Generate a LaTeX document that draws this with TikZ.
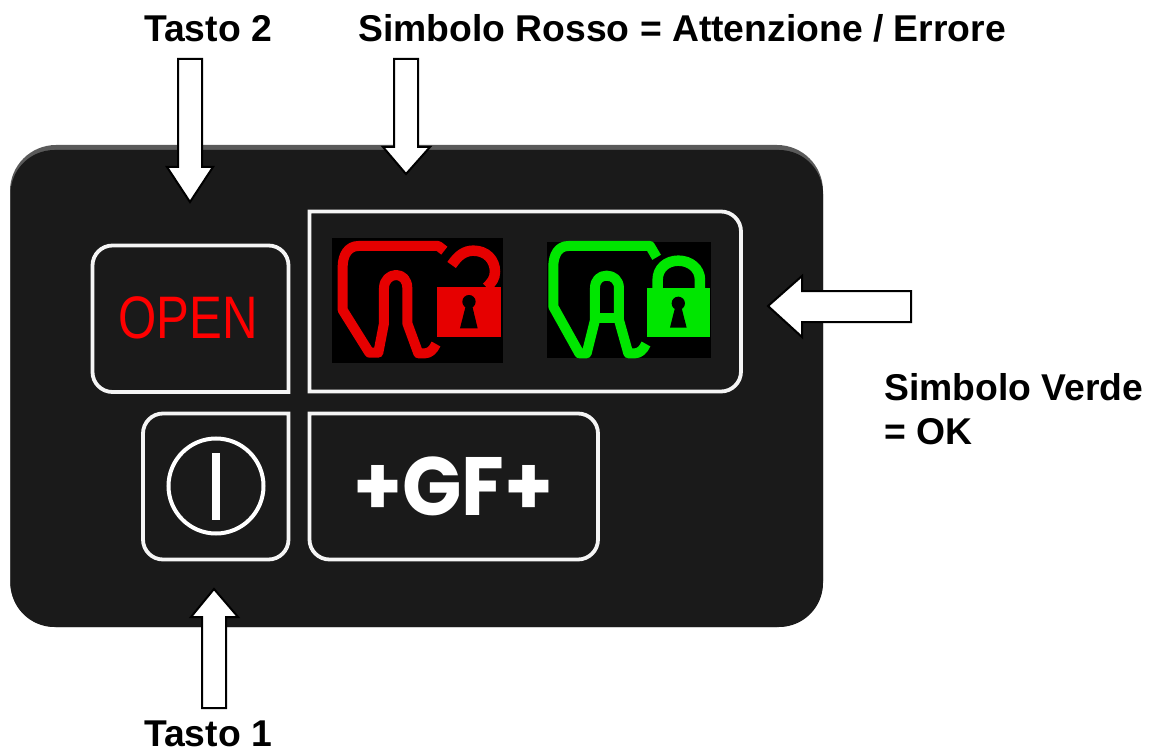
\documentclass[tikz,border=0pt]{standalone}
\usepackage{fontspec}
\setmainfont{Liberation Sans}
\newfontfamily\gffont{Poppins}
\definecolor{panel}{HTML}{1A1A1A}
\definecolor{rim}{HTML}{5A5A5A}
\definecolor{redsym}{HTML}{E60000}
\definecolor{greensym}{HTML}{00E600}
\tikzset{
  blockarrow/.style={draw=black,fill=white,line width=2pt,line join=miter},
  keybox/.style={draw=white!96!black,line width=3.8pt},
  caption/.style={font=\fontsize{37.3}{42}\selectfont\bfseries,anchor=base west,inner sep=0pt,text=black},
  symline/.style={line width=10pt,line join=round,line cap=butt},
  shackle/.style={line width=10.5pt,line cap=butt}
}
\begin{document}
\begin{tikzpicture}[x=1pt,y=-1pt]
\useasboundingbox (0,0) rectangle (1160,749);
% panel
\fill[rim,rounded corners=46pt] (10,145) rectangle (823,627);
\fill[panel,rounded corners=44pt] (10.5,150) rectangle (823,627);
% key boxes
\draw[keybox,rounded corners=20pt] (288.5,392) -- (92.5,392) -- (92.5,245.5) -- (288.5,245.5) [sharp corners] -- cycle;
\draw[keybox,rounded corners=20pt] (309.5,211.5) -- (741,211.5) -- (741,391.5) [sharp corners] -- (309.5,391.5) -- cycle;
\draw[keybox,rounded corners=20pt] (288.5,413.5) [sharp corners] -- (288.5,413.5) [rounded corners=20pt] -- (288.5,559.5) -- (143,559.5) -- (143,413.5) [sharp corners] -- cycle;
\draw[keybox,rounded corners=20pt] (309.5,413.5) -- (598,413.5) -- (598,559.5) -- (309.5,559.5) [sharp corners] -- cycle;
% labels in keys
\node[text=red,inner sep=0pt] (open) at (188,317.5) {\scalebox{0.82}[1]{\fontsize{60}{60}\selectfont OPEN}};
\node[text=white,inner sep=0pt] (gf) at (453.5,486) {\scalebox{1}[1.06]{\fontsize{78}{78}\gffont\bfseries +GF+}};
\draw[white,line width=4pt] (216,486) circle (47.5);
\fill[white] (212,453) rectangle (220,520);
% symbols
\begin{scope}[shift={(310,210)},x=0.3333pt,y=-0.3333pt]
\fill[black] (66,83) rectangle (580,458);
\draw[redsym,symline] (403,122) -- (385,108) -- (145,108) .. controls (115,108) and (98,135) .. (98,170) -- (98,300) -- (178,428) -- (205,428) -- (222,340) -- (222,235) .. controls (222,210) and (240,195) .. (258,195) .. controls (278,195) and (292,210) .. (292,235) -- (292,340) -- (325,430) -- (345,430) .. controls (358,430) and (370,420) .. (378,402);
\draw[redsym,shackle] (425,165) .. controls (445,135) and (465,122) .. (490,122) .. controls (530,122) and (555,150) .. (555,185) .. controls (555,205) and (545,218) .. (530,232);
\fill[redsym] (380,232) rectangle (572,382);
\fill[black] (477,275) circle (20);
\fill[black] (468,285) -- (486,285) -- (503,355) -- (450,355) -- cycle;
\fill[black] (711,95) rectangle (1204,443);
\draw[greensym,symline] (1040,142) -- (1020,108) -- (775,108) .. controls (745,108) and (730,135) .. (730,170) -- (730,290) -- (808,430) -- (830,430) -- (855,330) -- (855,235) .. controls (855,210) and (870,197) .. (890,197) .. controls (910,197) and (927,210) .. (927,235) -- (927,330) -- (955,430) -- (975,430) .. controls (988,430) and (1000,420) .. (1008,402);
\draw[greensym,symline] (855,325) -- (927,325);
\draw[greensym,shackle] (1043,234) -- (1043,210) .. controls (1043,175) and (1070,152) .. (1105,152) .. controls (1140,152) and (1170,175) .. (1170,210) -- (1170,234);
\fill[greensym] (1010,233) rectangle (1200,380);
\fill[black] (1105,280) circle (20);
\fill[black] (1096,290) -- (1114,290) -- (1130,353) -- (1080,353) -- cycle;
\end{scope}
% block arrows
\draw[blockarrow] (178,59) -- (202,59) -- (202,167) -- (213,167) -- (190,202) -- (167,167) -- (178,167) -- cycle;
\draw[blockarrow] (394,59) -- (418,59) -- (418,147) -- (430,147) -- (406,174) -- (383,147) -- (394,147) -- cycle;
\draw[blockarrow] (202,708) -- (226,708) -- (226,617) -- (238,617) -- (214,589) -- (191,617) -- (202,617) -- cycle;
\draw[blockarrow] (911,291) -- (911,322) -- (802,322) -- (802,337) -- (768,306) -- (802,276) -- (802,291) -- cycle;
% captions
\node[caption] (t2) at (144,42) {Tasto 2};
\node[caption] (rosso) at (358,42) {Simbolo Rosso = Attenzione / Errore};
\node[caption] (verde) at (884,400) {Simbolo Verde};
\node[caption] (ok) at (884,444) {= OK};
\node[caption] (t1) at (144,746) {Tasto 1};
\end{tikzpicture}
\end{document}
